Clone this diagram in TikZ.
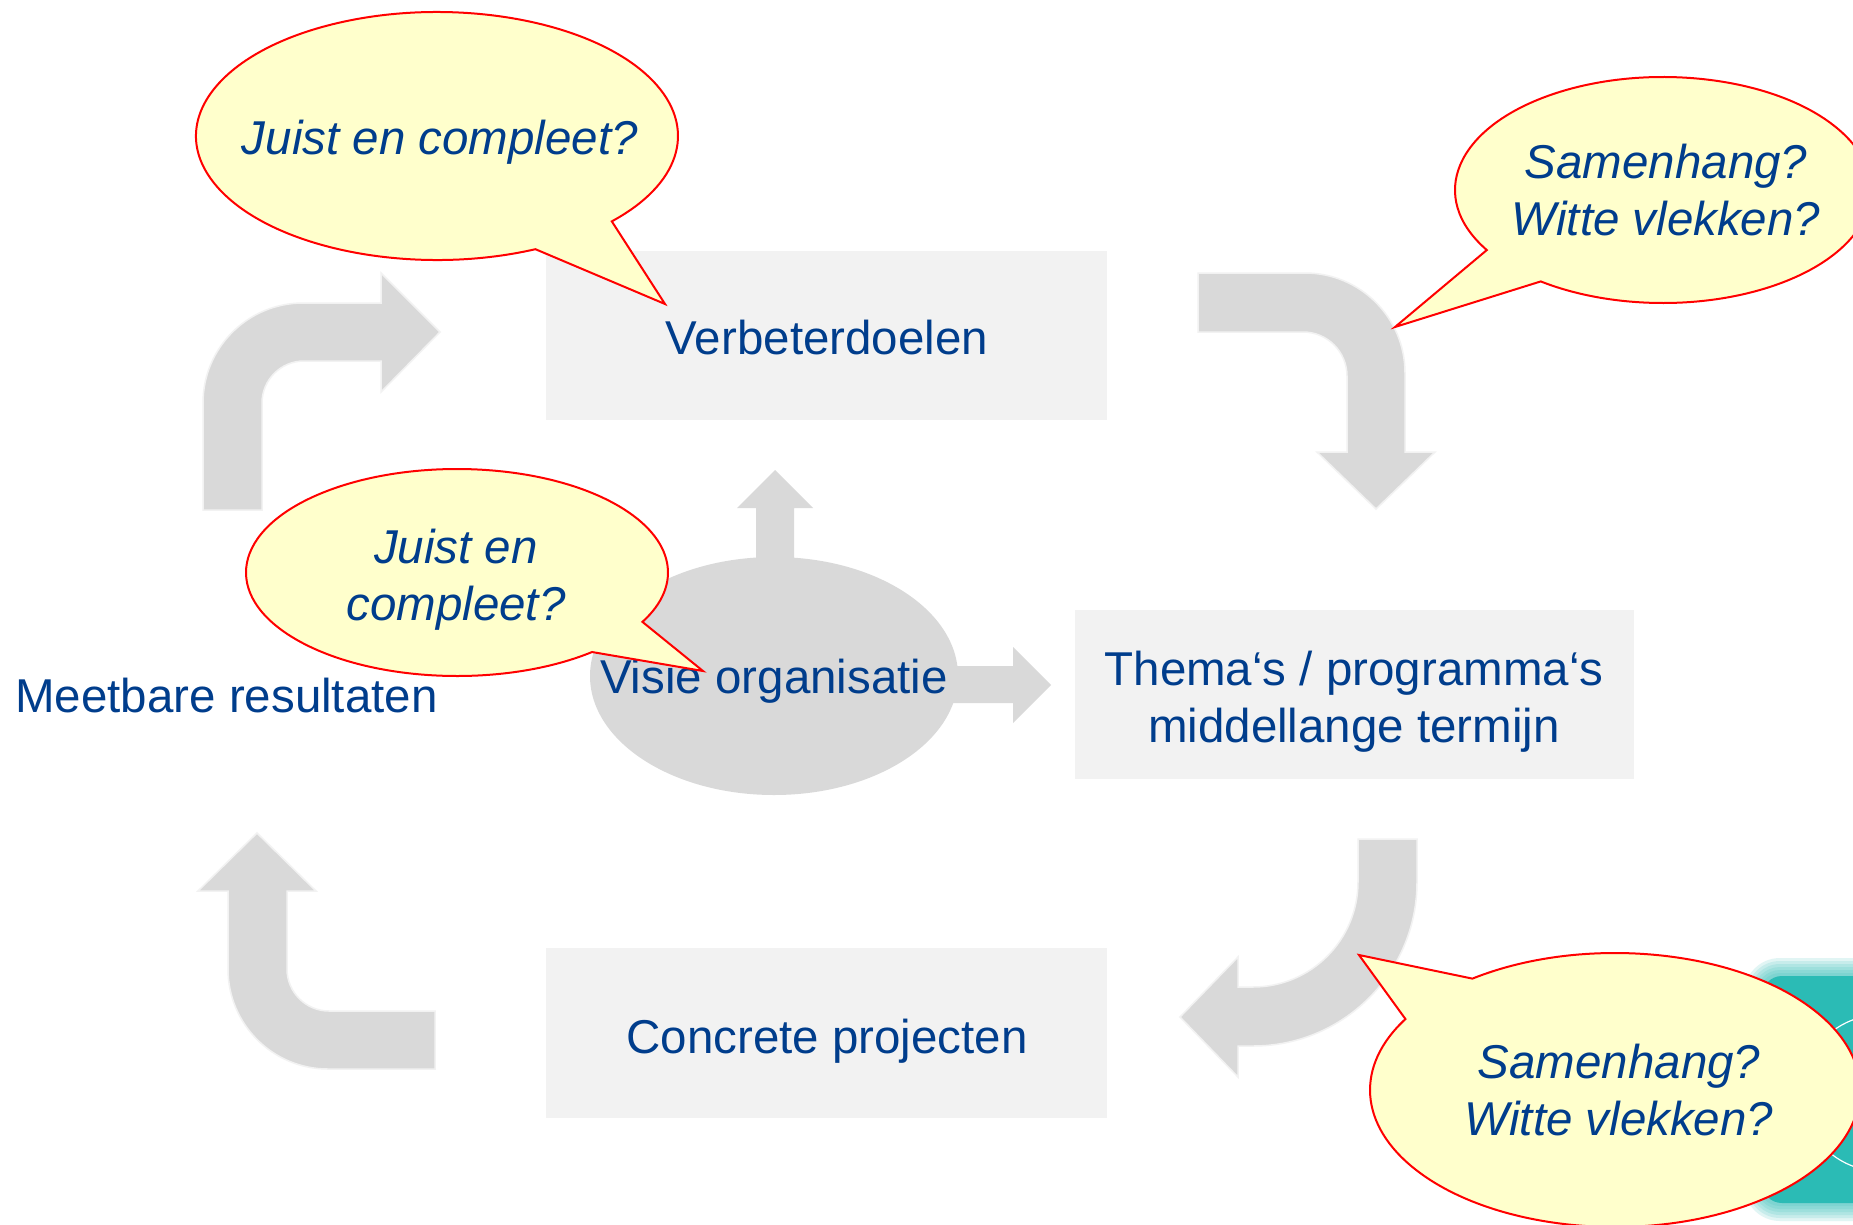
\documentclass[tikz,border=0pt]{standalone}
\usepackage{fontspec}
\setmainfont{Liberation Sans}
\usetikzlibrary{shapes.geometric}
\definecolor{txtblue}{RGB}{0,61,140}
\definecolor{arrowgray}{RGB}{217,217,217}
\definecolor{boxgray}{RGB}{242,242,242}
\definecolor{calloutfill}{RGB}{255,255,204}
\definecolor{tealc}{RGB}{43,187,181}
\tikzset{
  blockarrow/.style={fill=arrowgray, draw=boxgray, line width=1.5pt, line join=miter},
  panel/.style={fill=boxgray, inner sep=0pt},
  bubble/.style={fill=calloutfill, draw=red, line width=2pt, line join=miter},
  lbl/.style={text=txtblue, font=\fontsize{47.5}{57}\selectfont, align=center, anchor=base, inner sep=0pt},
  qlbl/.style={lbl, font=\fontsize{47.5}{57}\selectfont\itshape},
  glow/.style={tealc, opacity=0.14},
}
\begin{document}
\begin{tikzpicture}[x=1pt, y=-1pt]
\useasboundingbox (0,0) rectangle (1853,1224);
\clip (0,0) rectangle (1853,1224);
\fill[white] (0,0) rectangle (1853,1224);

% teal decoration bottom right (soft edge)
\foreach \d in {16,13,10,7,4,1} {
  \fill[glow, rounded corners=20pt+\d pt] (1760-\d,974-\d) rectangle (1930,1205+\d);
}
\fill[tealc, rounded corners=20pt] (1762,976) rectangle (1930,1203);
\draw[white, line width=1.2pt] (1880,1093) circle[radius=78];

% panels
\node[panel, minimum width=561pt, minimum height=169pt] (verb) at (826.5,335.5) {};
\node[panel, minimum width=559pt, minimum height=169pt] (thema) at (1354.5,694.5) {};
\node[panel, minimum width=561pt, minimum height=170pt] (concr) at (826.5,1033) {};

% block arrows
\draw[blockarrow] (203,510) -- (203,403) arc[start angle=180, end angle=270, radius=100]
  -- (381,303) -- (381,273) -- (440,332) -- (381,392) -- (381,361) -- (304,361)
  arc[start angle=270, end angle=180, radius=42] -- (262,510) -- cycle;
\draw[blockarrow] (1198,273) -- (1305,273) arc[start angle=270, end angle=360, radius=100]
  -- (1405,452) -- (1435,452) -- (1376,509) -- (1317,452) -- (1347,452) -- (1347,376)
  arc[start angle=0, end angle=-90, radius=44] -- (1198,332) -- cycle;
\draw[blockarrow] (1358,839) -- (1417,839) -- (1417,882) arc[start angle=0, end angle=90, radius=164]
  -- (1238,1046) -- (1238,1077) -- (1180,1017) -- (1238,957) -- (1238,987) -- (1253,987)
  arc[start angle=90, end angle=0, radius=105] -- cycle;
\draw[blockarrow] (435,1011) -- (329,1011) arc[start angle=90, end angle=180, radius=42]
  -- (287,891) -- (316,891) -- (257,833) -- (198,891) -- (228,891) -- (228,969)
  arc[start angle=180, end angle=90, radius=100] -- (435,1069) -- cycle;

% vision ellipse with its two arrows
\fill[arrowgray] (756,600) -- (756,508) -- (737,508) -- (775,470) -- (813,508) -- (794,508) -- (794,600) -- cycle;
\fill[arrowgray] (900,666) -- (1013,666) -- (1013,647) -- (1051,685) -- (1013,723) -- (1013,703) -- (900,703) -- cycle;
\node[ellipse, fill=arrowgray, minimum width=368pt, minimum height=238pt, inner sep=0pt] (visie) at (774,676) {};

% labels (multi-line nodes: base anchor is the last line)
\node[lbl] (tverb) at (827,354) {Verbeterdoelen};
\node[lbl] (tthema) at (1354,742) {Thema‘s / programma‘s\\middellange termijn};
\node[lbl] (tconcr) at (827,1053) {Concrete projecten};
\node[lbl] (tvisie) at (774,693) {Visie organisatie};
\node[lbl] (tmeet) at (226.5,712) {Meetbare resultaten};

% callouts
\draw[bubble] (437,136) ++(65.9:241 and 124) arc[start angle=65.9, end angle=403.5, x radius=241, y radius=124] -- (665,304) -- cycle;
\node[qlbl] (q1) at (440,154) {Juist en compleet?};

\draw[bubble] (457,572.5) ++(50.2:211 and 103.5) arc[start angle=50.2, end angle=388.5, x radius=211, y radius=103.5] -- (703,671) -- cycle;
\node[qlbl] (q2) at (456,620) {Juist en\\compleet?};

\draw[bubble] (1663,190) ++(147.9:208 and 113) arc[start angle=147.9, end angle=486, x radius=208, y radius=113] -- (1395,327) -- cycle;
\node[qlbl] (q3) at (1666,235) {Samenhang?\\Witte vlekken?};

\draw[bubble] (1615,1090) ++(234.4:245 and 137) arc[start angle=234.4, end angle=571.2, x radius=245, y radius=137] -- (1359,955) -- cycle;
\node[qlbl] (q4) at (1619,1135) {Samenhang?\\Witte vlekken?};
\end{tikzpicture}
\end{document}
